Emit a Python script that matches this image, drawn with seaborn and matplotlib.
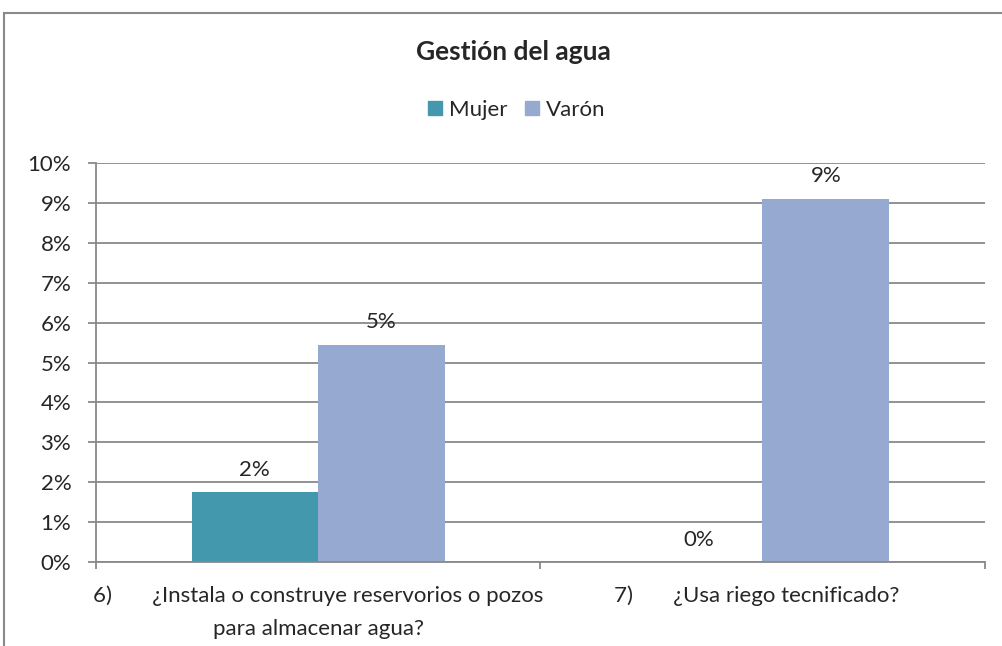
import matplotlib
matplotlib.use("Agg")
import matplotlib.pyplot as plt
import seaborn as sns
import pandas as pd
from matplotlib.patches import Rectangle

categories = ["6)       ¿Instala o construye reservorios o pozos\npara almacenar agua?",
              "7)       ¿Usa riego tecnificado?  \n "]
mujer = [1.75, 0.0]
varon = [5.45, 9.1]
series_names = ["Mujer", "Varón"]
colors = ["#4398AE", "#95A9D1"]
yticks = list(range(0, 11))

df = pd.DataFrame({
    "cat": categories * 2,
    "sexo": [series_names[0]] * 2 + [series_names[1]] * 2,
    "val": mujer + varon,
})

sns.set_theme(style="white")
plt.rcParams['font.family'] = ['Lato', 'DejaVu Sans']

fig = plt.figure(figsize=(10.03, 6.46), dpi=100)
ax = fig.add_axes([0.0957, 0.130, 0.886, 0.6177])

sns.barplot(data=df, x="cat", y="val", hue="sexo", palette=colors, width=0.57,
            saturation=1, ax=ax, legend=False, linewidth=0, edgecolor="none")

ax.set_ylim(0, 10)
ax.set_xlim(-0.5, 1.5)
ax.set_yticks(yticks)
ax.set_yticklabels([f"{t}%" for t in yticks], fontsize=16)
ax.set_xlabel("")
ax.set_ylabel("")
ax.yaxis.grid(True, color="#898989", linewidth=1.3)
ax.set_axisbelow(True)
for s in ["top", "right"]:
    ax.spines[s].set_visible(False)
for s in ["left", "bottom"]:
    ax.spines[s].set_color("#898989")
    ax.spines[s].set_linewidth(1.3)

ax.tick_params(axis="y", which="major", left=True, length=5.8, color="#898989", width=1.3, pad=12)
ax.set_xticks([0, 1])
ax.set_xticklabels(categories, fontsize=16, linespacing=1.8)
ax.tick_params(axis="x", which="major", length=0, pad=17)
ax.set_xticks([-0.5, 0.5, 1.5], minor=True)
ax.tick_params(axis="x", which="minor", bottom=True, length=5, color="#898989", width=1.3)

for cont in ax.containers:
    ax.bar_label(cont, labels=[f"{round(v)}%" for v in cont.datavalues], padding=9, fontsize=16)

fig.text(0.5115, 0.9195, "Gestión del agua", ha="center", va="center", fontsize=19, fontweight="bold")
handles = [Rectangle((0, 0), 1, 1, color=c) for c in colors]
fig.legend(handles, series_names, loc="center", bbox_to_anchor=(0.515, 0.830), ncol=2,
           frameon=False, fontsize=16, handlelength=0.65, handleheight=0.65,
           handletextpad=0.3, columnspacing=0.8)

fig.patches.append(Rectangle((4 / 1003, -0.1), 1.2, 1 - 13 / 646 + 0.1, transform=fig.transFigure,
                             fill=False, edgecolor="#898989", linewidth=1.5, figure=fig))

fig.savefig("out.png", dpi=100)
